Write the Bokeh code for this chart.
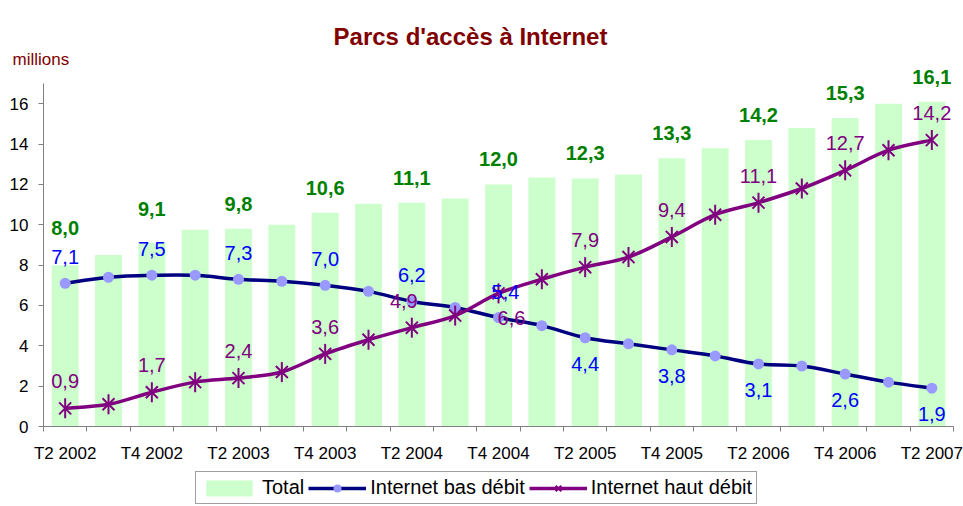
import numpy as np
from bokeh.plotting import figure
from bokeh.models import (ColumnDataSource, Range1d, FixedTicker, Label, LabelSet,
                          Legend, LegendItem)
from bokeh.embed import file_html
from bokeh.resources import INLINE
from bokeh.core.properties import value

# ---------------- data ----------------
quarters = ["T2 2002", "T3 2002", "T4 2002", "T1 2003", "T2 2003", "T3 2003", "T4 2003",
            "T1 2004", "T2 2004", "T3 2004", "T4 2004", "T1 2005", "T2 2005", "T3 2005",
            "T4 2005", "T1 2006", "T2 2006", "T3 2006", "T4 2006", "T1 2007", "T2 2007"]
total = [8.0, 8.5, 9.1, 9.75, 9.8, 10.0, 10.6, 11.05, 11.1, 11.3, 12.0, 12.35, 12.3, 12.5,
         13.3, 13.8, 14.2, 14.8, 15.3, 16.0, 16.1]
bas_debit = [7.1, 7.4, 7.5, 7.5, 7.3, 7.2, 7.0, 6.7, 6.2, 5.9, 5.4, 5.0, 4.4, 4.1, 3.8, 3.5,
             3.1, 3.0, 2.6, 2.2, 1.9]
haut_debit = [0.9, 1.1, 1.7, 2.2, 2.4, 2.7, 3.6, 4.3, 4.9, 5.5, 6.6, 7.3, 7.9, 8.4, 9.4, 10.5,
              11.1, 11.8, 12.7, 13.7, 14.2]
y_ticks = [0, 2, 4, 6, 8, 10, 12, 14, 16]

FONT = value("Liberation Sans")
FONT_NAME = "Liberation Sans"
GREEN_BAR = "#CCFFCC"
GREEN_TXT = "#008000"
NAVY = "#000080"
DOT = "#9999FF"
BLUE_TXT = "#0000FF"
PURPLE = "#800080"
DARKRED = "#800000"

n = len(quarters)
xs = np.arange(n)

# ---- layout geometry (pixels of the 963x506 canvas) ----
W, H = 963, 506
AX_LEFT, AX_RIGHT = 43, 953       # plot area left / right edge
AX_ZERO, AX_16 = 426, 103.3       # pixel rows of y=0 and y=16
px_cat = (AX_RIGHT - AX_LEFT) / n
px_unit = (AX_ZERO - AX_16) / 16
x_start = -0.5 - AX_LEFT / px_cat
x_end = n - 0.5 + (W - AX_RIGHT) / px_cat
y_start = -(H - AX_ZERO) / px_unit
y_end = AX_ZERO / px_unit


def fmt(v):
    return f"{v:.1f}".replace(".", ",")


def bezier_segments(x, y):
    x = np.asarray(x, float)
    y = np.asarray(y, float)
    xp = np.concatenate([[x[0]], x, [x[-1]]])
    yp = np.concatenate([[y[0]], y, [y[-1]]])
    k = 1.0 / 6.0
    d = dict(x0=x[:-1], y0=y[:-1], x1=x[1:], y1=y[1:],
             cx0=x[:-1] + (xp[2:-1] - xp[0:-3]) * k,
             cy0=y[:-1] + (yp[2:-1] - yp[0:-3]) * k,
             cx1=x[1:] - (xp[3:] - xp[1:-2]) * k,
             cy1=y[1:] - (yp[3:] - yp[1:-2]) * k)
    return ColumnDataSource(d)


p = figure(width=W, height=H, output_backend="svg", toolbar_location=None,
           x_range=Range1d(x_start, x_end), y_range=Range1d(y_start, y_end),
           min_border=0, min_border_left=0, min_border_right=0,
           min_border_top=0, min_border_bottom=0)
p.outline_line_color = None
p.xgrid.visible = False
p.ygrid.visible = False
p.background_fill_color = "white"
p.border_fill_color = "white"

# bars
bars = p.vbar(x=xs, top=total, width=0.62, fill_color=GREEN_BAR, line_color=None)

# smooth lines
bas_src = bezier_segments(xs, bas_debit)
haut_src = bezier_segments(xs, haut_debit)
p.bezier(x0="x0", y0="y0", x1="x1", y1="y1", cx0="cx0", cy0="cy0", cx1="cx1", cy1="cy1",
         source=bas_src, line_color=NAVY, line_width=3.5)
p.bezier(x0="x0", y0="y0", x1="x1", y1="y1", cx0="cx0", cy0="cy0", cx1="cx1", cy1="cy1",
         source=haut_src, line_color=PURPLE, line_width=3.5)

# legend-only line renderers (a single undefined point: nothing drawn in the plot)
leg_bas = p.line(x=[np.nan], y=[np.nan], line_color=NAVY, line_width=3.5)
leg_haut = p.line(x=[np.nan], y=[np.nan], line_color=PURPLE, line_width=3.5)

# markers
r_bas_pts = p.scatter(x=xs, y=bas_debit, marker="circle", size=11, fill_color=DOT, line_color=None)
r_haut_x = p.scatter(x=xs, y=haut_debit, marker="x", size=17, line_color=PURPLE, line_width=2)
r_haut_v = p.scatter(x=xs, y=haut_debit, marker="dash", angle=np.pi / 2, size=20,
                     line_color=PURPLE, line_width=2)

# data labels (every other quarter)
even = list(range(0, n, 2))
tot_extra = {0: 12, 2: 9}
tot_src = ColumnDataSource(dict(x=[xs[i] for i in even], y=[total[i] for i in even],
                                t=[fmt(total[i]) for i in even],
                                dy=[25 + tot_extra.get(i, 0) for i in even]))
p.add_layout(LabelSet(x="x", y="y", text="t", source=tot_src, y_offset="dy",
                      text_align="center", text_baseline="middle", text_font=FONT,
                      text_font_size="20px", text_font_style="bold", text_color=GREEN_TXT))

bas_dy = [26 if i <= 10 else -26 for i in even]
bas_dx = [7 if i == 10 else 0 for i in even]
bas_lab = ColumnDataSource(dict(x=[xs[i] for i in even], y=[bas_debit[i] for i in even],
                                t=[fmt(bas_debit[i]) for i in even], dy=bas_dy, dx=bas_dx))
haut_dy = [-25 if i == 10 else 27 for i in even]
haut_dx = [13 if i == 10 else (-8 if i == 8 else 0) for i in even]
haut_lab = ColumnDataSource(dict(x=[xs[i] for i in even], y=[haut_debit[i] for i in even],
                                 t=[fmt(haut_debit[i]) for i in even], dy=haut_dy, dx=haut_dx))
p.add_layout(LabelSet(x="x", y="y", text="t", source=haut_lab, y_offset="dy", x_offset="dx",
                      text_align="center", text_baseline="middle", text_font=FONT,
                      text_font_size="20px", text_color=PURPLE))
p.add_layout(LabelSet(x="x", y="y", text="t", source=bas_lab, y_offset="dy", x_offset="dx",
                      text_align="center", text_baseline="middle", text_font=FONT,
                      text_font_size="20px", text_color=BLUE_TXT))

# axes (pinned at y=0 and at the left edge of the first category)
xa = p.xaxis[0]
xa.fixed_location = 0
xa.bounds = (-0.5, n - 0.5)
xa.ticker = FixedTicker(ticks=even, minor_ticks=[i - 0.5 for i in range(n + 1)])
xa.major_label_overrides = {i: quarters[i] for i in even}
xa.major_tick_line_color = None
xa.major_tick_out = 0
xa.major_tick_in = 0
xa.minor_tick_line_color = "#808080"
xa.minor_tick_out = 5
xa.minor_tick_in = 0
xa.axis_line_color = "#808080"
xa.major_label_text_font = FONT_NAME
xa.major_label_text_font_size = "17px"
xa.major_label_text_color = "black"
xa.major_label_standoff = 12

ya = p.yaxis[0]
ya.fixed_location = -0.5
ya.bounds = (0, 17)
ya.ticker = FixedTicker(ticks=y_ticks, minor_ticks=[])
ya.major_tick_line_color = "#808080"
ya.major_tick_out = 5
ya.major_tick_in = 0
ya.minor_tick_line_color = None
ya.axis_line_color = "#808080"
ya.major_label_text_font = FONT_NAME
ya.major_label_text_font_size = "17px"
ya.major_label_text_color = "black"
ya.major_label_standoff = 10

# title and unit
p.add_layout(Label(x=470, y=H - 36, x_units="screen", y_units="screen",
                   text="Parcs d'accès à Internet", text_align="center",
                   text_baseline="alphabetic", text_font=FONT_NAME, text_font_size="24px",
                   text_font_style="bold", text_color=DARKRED))
p.add_layout(Label(x=12, y=H - 59, x_units="screen", y_units="screen", text="millions",
                   text_align="left", text_baseline="alphabetic", text_font=FONT_NAME,
                   text_font_size="17px", text_color=DARKRED))

legend = Legend(items=[
    LegendItem(label="Total", renderers=[bars]),
    LegendItem(label="Internet bas débit", renderers=[leg_bas, r_bas_pts]),
    LegendItem(label="Internet haut débit", renderers=[leg_haut, r_haut_x, r_haut_v]),
], orientation="horizontal", location=(195, 2))
legend.label_text_font = FONT_NAME
legend.label_text_font_size = "20px"
legend.label_text_color = "black"
legend.glyph_width = 58
legend.glyph_height = 20
legend.label_standoff = 4
legend.spacing = 4
legend.padding = 4
legend.margin = 0
legend.border_line_color = "#404040"
legend.border_line_width = 1
legend.background_fill_color = "white"
legend.background_fill_alpha = 1
p.add_layout(legend, "center")

open("out.html", "w").write(file_html(p, INLINE))
